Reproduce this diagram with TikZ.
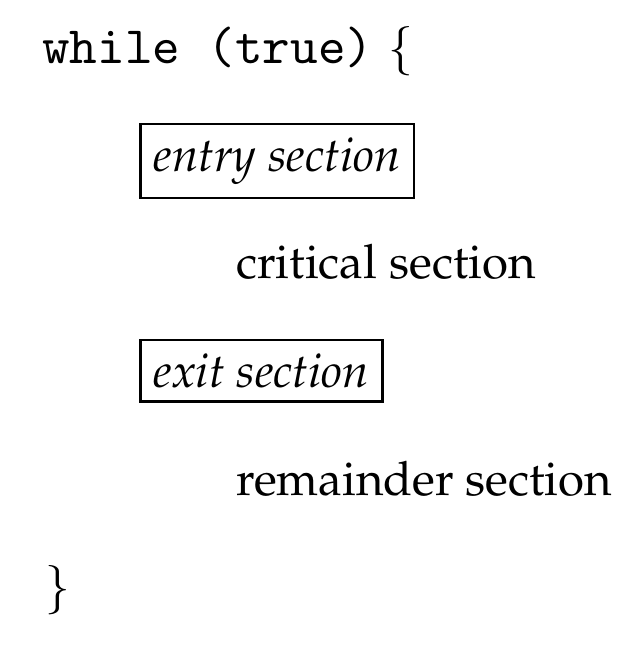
\documentclass[tikz,border=0pt]{standalone}
\usepackage[T1]{fontenc}
\usepackage{mathpazo}
\usetikzlibrary{positioning}

\begin{document}
\begin{tikzpicture}[x=1pt, y=1pt, font=\fontsize{9.87}{12}\selectfont,
  code/.style={anchor=base west, inner sep=0pt},
  part/.style={anchor=base west, inner sep=0pt},
  section/.style={draw=black, line width=.5pt, inner sep=2.8pt, font=\fontsize{9.87}{12}\selectfont\itshape}]
  \useasboundingbox (0,0) rectangle (132.5,-134.6);

  \node[code] (loop) at (8.6,-13.3)
    {{\fontencoding{OT1}\fontfamily{cmtt}\fontsize{10.95}{13}\selectfont while (true)}\hspace{3pt}$\{$};
  \node[section, anchor=north west] (entry) at (29,-25.6) {entry section};
  \node[part] (critical) at (49,-58.1) {critical section};
  \node[section, anchor=north west] (exit) at (29,-70.6) {exit section};
  \node[part] (remainder) at (49,-103.3) {remainder section};
  \node[part] (close) at (9.2,-125.5) {$\}$};
\end{tikzpicture}
\end{document}
